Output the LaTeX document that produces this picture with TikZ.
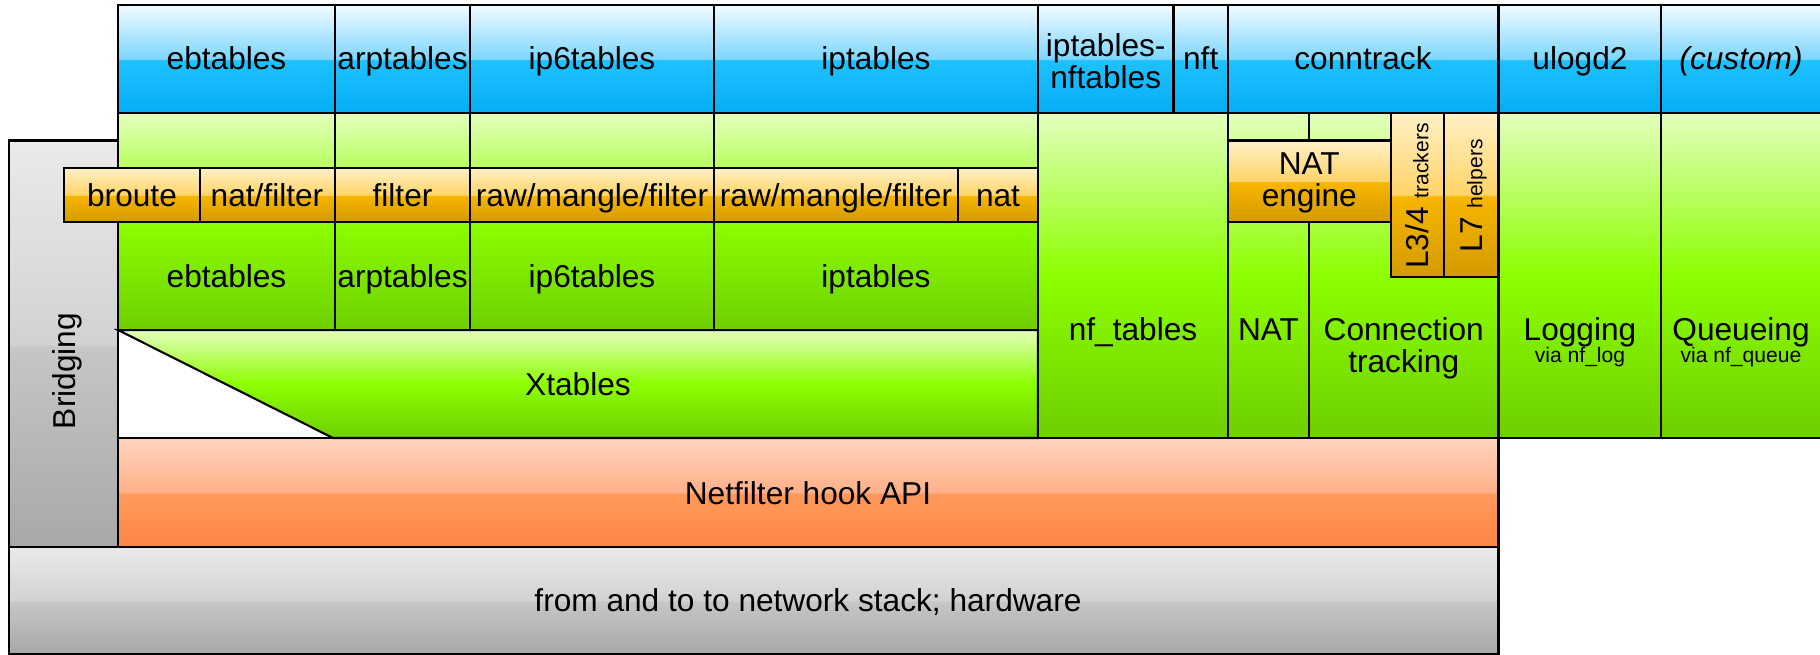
\documentclass[tikz,border=0pt]{standalone}
\usepackage{fontspec}
\setmainfont{Liberation Sans}
\definecolor{bluetop}{HTML}{F2FBFF}
\definecolor{bluehigh}{HTML}{7DD6FF}
\definecolor{bluemid}{HTML}{1EC2FF}
\definecolor{bluebot}{HTML}{06ADF4}
\definecolor{greentop}{HTML}{E4FFBE}
\definecolor{greenmid}{HTML}{8CFF00}
\definecolor{greenbot}{HTML}{6ECF00}
\definecolor{orangetop}{HTML}{FFF1C6}
\definecolor{orangehigh}{HTML}{FFD468}
\definecolor{orangemid}{HTML}{F7B600}
\definecolor{orangebot}{HTML}{D49A00}
\definecolor{redtop}{HTML}{FFD4BE}
\definecolor{redhigh}{HTML}{FFB088}
\definecolor{redmid}{HTML}{FF9A5C}
\definecolor{redbot}{HTML}{FF8544}
\definecolor{graytop}{HTML}{EAEAEA}
\definecolor{grayhigh}{HTML}{D2D2D2}
\definecolor{graymid}{HTML}{C6C6C6}
\definecolor{graybot}{HTML}{A8A8A8}
\pgfdeclareverticalshading{blueglass}{100bp}{color(0bp)=(bluebot); color(25bp)=(bluebot); color(49.5bp)=(bluemid); color(50bp)=(bluehigh); color(75bp)=(bluetop); color(100bp)=(bluetop)}
\pgfdeclareverticalshading{greenglow}{100bp}{color(0bp)=(greenbot); color(25bp)=(greenbot); color(50bp)=(greenmid); color(75bp)=(greentop); color(100bp)=(greentop)}
\pgfdeclareverticalshading{orangeglass}{100bp}{color(0bp)=(orangebot); color(25bp)=(orangebot); color(49.5bp)=(orangemid); color(50bp)=(orangehigh); color(75bp)=(orangetop); color(100bp)=(orangetop)}
\pgfdeclareverticalshading{redglass}{100bp}{color(0bp)=(redbot); color(25bp)=(redbot); color(49.5bp)=(redmid); color(50bp)=(redhigh); color(75bp)=(redtop); color(100bp)=(redtop)}
\pgfdeclareverticalshading{grayglass}{100bp}{color(0bp)=(graybot); color(25bp)=(graybot); color(49.5bp)=(graymid); color(50bp)=(grayhigh); color(75bp)=(graytop); color(100bp)=(graytop)}

\begin{document}
\begin{tikzpicture}[x=0.01cm, y=-0.01cm, line width=0.6pt,
		usercell/.style={draw, shade, shading=blueglass},
		modcell/.style={draw, shade, shading=greenglow},
		tablecell/.style={draw, shade, shading=orangeglass},
		hookcell/.style={draw, shade, shading=redglass},
		basecell/.style={draw, shade, shading=grayglass},
		lbl/.style={font=\fontsize{9}{9.1}\selectfont, inner sep=0pt, text height=6.5pt, text depth=0pt},
		lbltwo/.style={font=\fontsize{9}{9.1}\selectfont, inner sep=0pt, align=center},
		sub/.style={font=\fontsize{6}{7}\selectfont, inner sep=0pt}]
		\useasboundingbox (0,0) rectangle (1820,655);
		% Draw bridging, hardware and hook layers.
		\draw[basecell] (9,140.5) rectangle (118,547);
		\draw[basecell] (9,547) rectangle (1498.5,654);
		\draw[hookcell] (118,438) rectangle (1498.5,547);
		\node[lbl, rotate=90] (bridging) at (64,371) {Bridging};
		\node[lbl] (hw) at (808,600) {from and to to network stack; hardware};
		\node[lbl] (hookapi) at (808,493) {Netfilter hook API};
		
		% Draw Xtables and the table modules.
		\draw[modcell] (118,330) -- (1038,330) -- (1038,438) -- (333,438) -- cycle;
		\node[lbl] (xtables) at (578,384) {Xtables};
		\draw[modcell] (118,113) rectangle (335,330);
		\draw[modcell] (335,113) rectangle (470,330);
		\draw[modcell] (470,113) rectangle (714,330);
		\draw[modcell] (714,113) rectangle (1038,330);
		\node[lbl] (ebtK) at (226.5,276) {ebtables};
		\node[lbl] (arpK) at (402.5,276) {arptables};
		\node[lbl] (ip6K) at (592,276) {ip6tables};
		\node[lbl] (ip4K) at (876,276) {iptables};
		
		% Draw the tables row.
		\draw[tablecell] (64,168.3) rectangle (199.6,221.7);
		\draw[tablecell] (199.6,168.3) rectangle (335,221.7);
		\draw[tablecell] (335,168.3) rectangle (470,221.7);
		\draw[tablecell] (470,168.3) rectangle (714,221.7);
		\draw[tablecell] (714,168.3) rectangle (957.6,221.7);
		\draw[tablecell] (957.6,168.3) rectangle (1038,221.7);
		\node[lbl] (broute) at (132,195) {broute};
		\node[lbl] (ebtT) at (267,195) {nat/filter};
		\node[lbl] (arpT) at (402.5,195) {filter};
		\node[lbl] (ip6T) at (592,195) {raw/mangle/filter};
		\node[lbl] (ip4T) at (836,195) {raw/mangle/filter};
		\node[lbl] (ip4nat) at (998,195) {nat};
		
		% Draw nf_tables, NAT and conntrack.
		\draw[modcell] (1038,113) rectangle (1228,438);
		\draw[modcell] (1228,113) rectangle (1309,438);
		\draw[modcell] (1309,113) rectangle (1498.5,438);
		\draw[tablecell] (1228,140.5) rectangle (1390.6,221.7);
		\draw[tablecell] (1390.6,113) rectangle (1444,276.7);
		\draw[tablecell] (1444,113) rectangle (1498.5,276.7);
		\node[lbl] (nftK) at (1133,329) {nf\_tables};
		\node[lbl] (nat) at (1268.5,329) {NAT};
		\node[lbltwo] (ct) at (1403.7,348) {Connection\\tracking};
		\node[lbltwo] (natengine) at (1309.3,183) {NAT\\engine};
		\node[lbl, rotate=90] (l34) at (1417,196) {L3/4 {\fontsize{6}{7}\selectfont trackers}};
		\node[lbl, rotate=90] (l7) at (1471,196) {L7 {\fontsize{6}{7}\selectfont helpers}};
		
		% Draw logging and queueing.
		\draw[modcell] (1498.5,113) rectangle (1661,438);
		\draw[modcell] (1661,113) rectangle (1822,438);
		\node[lbl] (logging) at (1580,329) {Logging};
		\node[sub] (nflog) at (1580,357) {via nf\_log};
		\node[lbl] (queueing) at (1741,329) {Queueing};
		\node[sub] (nfqueue) at (1741,357) {via nf\_queue};
		
		% Draw userspace tools.
		\draw[usercell] (118,5) rectangle (335,113);
		\draw[usercell] (335,5) rectangle (470,113);
		\draw[usercell] (470,5) rectangle (714,113);
		\draw[usercell] (714,5) rectangle (1038,113);
		\draw[usercell] (1038,5) rectangle (1173.5,113);
		\draw[usercell] (1173.5,5) rectangle (1228,113);
		\draw[usercell] (1228,5) rectangle (1498.5,113);
		\draw[usercell] (1498.5,5) rectangle (1661,113);
		\draw[usercell] (1661,5) rectangle (1822,113);
		\node[lbl] (ebtU) at (226.5,58) {ebtables};
		\node[lbl] (arpU) at (402.5,58) {arptables};
		\node[lbl] (ip6U) at (592,58) {ip6tables};
		\node[lbl] (ip4U) at (876,58) {iptables};
		\node[lbltwo] (ipnftU) at (1105.7,61) {iptables-\\nftables};
		\node[lbl] (nftU) at (1200.7,58) {nft};
		\node[lbl] (conntrack) at (1363,58) {conntrack};
		\node[lbl] (ulogd) at (1580,58) {ulogd2};
		\node[lbl, font=\fontsize{9}{9.1}\selectfont\itshape] (custom) at (1741,58) {(custom)};
\end{tikzpicture}
\end{document}
